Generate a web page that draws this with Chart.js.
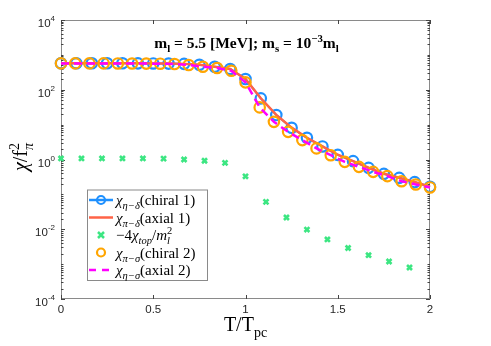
<!DOCTYPE html>
<html>
<head>
<meta charset="utf-8">
<script src="https://cdn.jsdelivr.net/npm/chart.js@4.4.0/dist/chart.umd.min.js"></script>
<style>
  body { margin: 0; background: #fff; }
  #wrap { width: 491px; height: 346px; }
</style>
</head>
<body>
<div id="wrap"><canvas id="myChart" width="491" height="346"></canvas></div>
<script>
// chiral 1 / axial 1 grid (T/Tpc)
const t_eta_delta = [0, 0.083, 0.167, 0.25, 0.333, 0.417, 0.5, 0.583, 0.667, 0.75, 0.833, 0.917,
    1, 1.083, 1.167, 1.25, 1.333, 1.417, 1.5, 1.583, 1.667, 1.75, 1.833, 1.917, 2];
const chi_eta_delta = [575, 575, 575, 575, 573, 571, 568, 563, 552, 521, 457, 393,
    203, 56.6, 18.8, 8.1, 4.19, 2.37, 1.36, 0.898, 0.576, 0.388, 0.298, 0.225, 0.165];
const chi_pi_delta = [575, 575, 575, 575, 573, 571, 568, 563, 552, 521, 457, 393,
    205, 57, 19, 8.2, 4.2, 2.38, 1.37, 0.9, 0.58, 0.39, 0.3, 0.226, 0.165];

// chiral 2 / axial 2 grid
const t_pi_sigma = [0, 0.077, 0.154, 0.231, 0.308, 0.385, 0.462, 0.538, 0.615, 0.692, 0.769, 0.846, 0.923,
    1, 1.077, 1.154, 1.231, 1.308, 1.385, 1.462, 1.538, 1.615, 1.692, 1.769, 1.846, 1.923, 2];
const chi_pi_sigma = [570, 570, 570, 569, 568, 566, 563, 558, 546, 511, 457, 420, 351,
    163, 31.2, 12.0, 6.2, 3.6, 2.08, 1.33, 0.857, 0.616, 0.442, 0.333, 0.239, 0.192, 0.158];
const chi_eta_sigma = [570, 570, 570, 569, 568, 566, 563, 558, 546, 511, 457, 420, 351,
    163, 31.2, 12.0, 6.2, 3.6, 2.08, 1.33, 0.857, 0.616, 0.442, 0.333, 0.239, 0.192, 0.158];

// topological susceptibility
const t_top = [0, 0.111, 0.222, 0.333, 0.444, 0.556, 0.667, 0.778, 0.889,
    1, 1.111, 1.222, 1.333, 1.444, 1.556, 1.667, 1.778, 1.889];
const chi_top = [1.07, 1.07, 1.07, 1.07, 1.07, 1.06, 1.0, 0.92, 0.80,
    0.33, 0.061, 0.0217, 0.0098, 0.0051, 0.0029, 0.0018, 0.00119, 0.0008];

const xTicks = [0, 0.5, 1, 1.5, 2];
const xTickLabels = ['0', '0.5', '1', '1.5', '2'];
const yTicks = [1e-4, 1e-2, 1, 1e2, 1e4];
const yTickExp = ['-4', '-2', '0', '2', '4'];

const BLUE = 'rgb(30,144,255)';
const RED = 'rgb(255,99,71)';
const GREEN = 'rgb(60,230,130)';
const ORANGE = 'rgb(255,165,0)';
const MAGENTA = 'rgb(255,0,255)';
const SERIF = '"Liberation Serif", "DejaVu Serif", serif';
const SANS = '"Liberation Sans", Arial, sans-serif';

const pts = (xs, ys) => xs.map((v, i) => ({x: v, y: ys[i]}));

// rich text: [text, mode]  i = italic, b = subscript, p = superscript, k = start at previous segment
function rich(ctx, segs, x, y, size, bold, draw) {
    let cx = x, prev = x, maxX = x;
    segs.forEach(([t, m]) => {
        let s = size, dy = 0;
        if (m.includes('b')) { s = size * 0.7; dy = size * 0.28; }
        if (m.includes('p')) { s = size * 0.7; dy = -size * 0.38; }
        if (m.includes('k')) cx = prev;
        ctx.font = (m.includes('i') ? 'italic ' : '') + (bold ? 'bold ' : '') + s + 'px ' + SERIF;
        prev = cx;
        if (draw) ctx.fillText(t, cx, y + dy);
        cx += ctx.measureText(t).width;
        maxX = Math.max(maxX, cx);
    });
    return maxX - x;
}

const legendItems = [
    {segs: [['χ', 'i'], ['η−δ', 'ib'], ['(chiral 1)', '']], kind: 'lineMark', color: BLUE},
    {segs: [['χ', 'i'], ['π−δ', 'ib'], ['(axial 1)', '']], kind: 'line', color: RED},
    {segs: [['−4', ''], ['χ', 'i'], ['top', 'ib'], ['/', ''], ['m', 'i'], ['l', 'ib'], ['2', 'pk']], kind: 'cross', color: GREEN},
    {segs: [['χ', 'i'], ['π−σ', 'ib'], ['(chiral 2)', '']], kind: 'mark', color: ORANGE},
    {segs: [['χ', 'i'], ['η−σ', 'ib'], ['(axial 2)', '']], kind: 'dash', color: MAGENTA}
];

const framePlugin = {
    id: 'frame',
    beforeDatasetsDraw(chart) {
        const {ctx, chartArea: a, scales: {x, y}} = chart;
        ctx.save();
        ctx.strokeStyle = '#8a8a8a';
        ctx.lineWidth = 1;
        ctx.strokeRect(a.left + 0.5, a.top + 0.5, a.right - a.left - 1, a.bottom - a.top - 1);
        ctx.strokeStyle = '#444';
        ctx.beginPath();
        xTicks.forEach(v => {
            const px = Math.round(x.getPixelForValue(v)) + 0.5;
            ctx.moveTo(px, a.bottom); ctx.lineTo(px, a.bottom - 4);
            ctx.moveTo(px, a.top); ctx.lineTo(px, a.top + 4);
        });
        for (let e = -4; e <= 4; e++) {
            for (let m = 1; m <= 9; m++) {
                if (e === 4 && m > 1) break;
                const v = m * Math.pow(10, e);
                const py = Math.round(y.getPixelForValue(v)) + 0.5;
                const len = (m === 1 && e % 2 === 0) ? 4 : 2.5;
                ctx.moveTo(a.left, py); ctx.lineTo(a.left + len, py);
                ctx.moveTo(a.right, py); ctx.lineTo(a.right - len, py);
            }
        }
        ctx.stroke();

        // tick labels
        ctx.fillStyle = '#262626';
        ctx.font = '11.5px ' + SANS;
        ctx.textAlign = 'center';
        ctx.textBaseline = 'alphabetic';
        xTicks.forEach((v, i) => ctx.fillText(xTickLabels[i], x.getPixelForValue(v), a.bottom + 14));
        ctx.textAlign = 'left';
        yTicks.forEach((v, i) => {
            const py = y.getPixelForValue(v);
            ctx.font = '8px ' + SANS;
            const w2 = ctx.measureText(yTickExp[i]).width;
            ctx.font = '11.5px ' + SANS;
            const w1 = ctx.measureText('10').width;
            const x0 = a.left - 6 - w1 - w2;
            ctx.fillText('10', x0, py + 7);
            ctx.font = '8px ' + SANS;
            ctx.fillText(yTickExp[i], x0 + w1, py + 1);
        });
        ctx.restore();
    },
    afterDraw(chart) {
        const {ctx, chartArea: a} = chart;
        ctx.save();
        ctx.fillStyle = '#000';
        ctx.textBaseline = 'alphabetic';
        ctx.textAlign = 'left';

        // title inside the axes
        const title = [['m', ''], ['l', 'b'], [' = 5.5 [MeV]; m', ''], ['s', 'b'], [' = 10', ''], ['−3', 'p'], ['m', ''], ['l', 'b']];
        const tw = rich(ctx, title, 0, 0, 15.5, true, false);
        rich(ctx, title, 246.5 - tw / 2, 48, 15.5, true, true);

        // x axis label
        const xl = [['T/T', ''], ['pc', 'b']];
        const xw = rich(ctx, xl, 0, 0, 20, false, false);
        rich(ctx, xl, (a.left + a.right) / 2 - xw / 2, 331, 20, false, true);

        // y axis label
        const yl = [['χ', 'i'], ['/f', ''], ['π', 'ib'], ['2', 'pk']];
        const yw = rich(ctx, yl, 0, 0, 20, false, false);
        ctx.translate(27, 157);
        ctx.rotate(-Math.PI / 2);
        rich(ctx, yl, -yw / 2, 0, 20, false, true);
        ctx.setTransform(1, 0, 0, 1, 0, 0);

        // legend box
        const bx = 87, by = 189.5, bw = 120, bh = 90.5;
        ctx.fillStyle = '#fff';
        ctx.fillRect(bx, by, bw, bh);
        ctx.strokeStyle = '#8a8a8a';
        ctx.lineWidth = 1;
        ctx.strokeRect(bx + 0.5, by + 0.5, bw, bh);
        legendItems.forEach((it, i) => {
            const cy = 200 + i * 17.5;
            const x1 = 89, x2 = 113, xm = 101;
            ctx.lineWidth = 2.5;
            ctx.strokeStyle = it.color;
            ctx.setLineDash(it.kind === 'dash' ? [7, 6] : []);
            if (it.kind !== 'mark' && it.kind !== 'cross') {
                ctx.beginPath(); ctx.moveTo(x1, cy); ctx.lineTo(x2, cy); ctx.stroke();
            }
            ctx.setLineDash([]);
            if (it.kind === 'lineMark' || it.kind === 'mark') {
                ctx.lineWidth = 2.2;
                ctx.beginPath(); ctx.arc(xm, cy, 4, 0, Math.PI * 2); ctx.stroke();
            }
            if (it.kind === 'cross') {
                ctx.lineWidth = 2.5;
                ctx.beginPath();
                ctx.moveTo(xm - 3, cy - 3); ctx.lineTo(xm + 3, cy + 3);
                ctx.moveTo(xm + 3, cy - 3); ctx.lineTo(xm - 3, cy + 3);
                ctx.stroke();
            }
            ctx.fillStyle = '#000';
            rich(ctx, it.segs, 116, cy + 5, 15, false, true);
        });
        ctx.restore();
    }
};

new Chart(document.getElementById('myChart'), {
    type: 'scatter',
    data: {
        datasets: [{
            label: 'chi eta-delta (chiral 1)',
            data: pts(t_eta_delta, chi_eta_delta),
            showLine: true,
            borderColor: BLUE,
            borderWidth: 2,
            pointStyle: 'circle',
            pointRadius: 5.2,
            pointBorderWidth: 2.2,
            pointBorderColor: BLUE,
            pointBackgroundColor: 'rgba(0,0,0,0)',
            clip: false,
            order: 5
        }, {
            label: 'chi pi-delta (axial 1)',
            data: pts(t_eta_delta, chi_pi_delta),
            showLine: true,
            borderColor: RED,
            borderWidth: 2.5,
            pointRadius: 0,
            clip: false,
            order: 4
        }, {
            label: '-4 chi_top / m_l^2',
            data: pts(t_top, chi_top),
            showLine: false,
            pointStyle: 'crossRot',
            pointRadius: 3.5,
            pointBorderWidth: 2.6,
            pointBorderColor: GREEN,
            borderColor: GREEN,
            clip: false,
            order: 3
        }, {
            label: 'chi pi-sigma (chiral 2)',
            data: pts(t_pi_sigma, chi_pi_sigma),
            showLine: false,
            pointStyle: 'circle',
            pointRadius: 5.2,
            pointBorderWidth: 2.2,
            pointBorderColor: ORANGE,
            pointBackgroundColor: 'rgba(0,0,0,0)',
            borderColor: ORANGE,
            clip: false,
            order: 2
        }, {
            label: 'chi eta-sigma (axial 2)',
            data: pts(t_pi_sigma, chi_eta_sigma),
            showLine: true,
            borderColor: MAGENTA,
            borderWidth: 2.5,
            borderDash: [8, 5],
            pointRadius: 0,
            clip: false,
            order: 1
        }]
    },
    options: {
        responsive: false,
        animation: false,
        layout: {padding: {left: 61, right: 61, top: 20, bottom: 47}},
        plugins: {legend: {display: false}, title: {display: false}, tooltip: {enabled: false}},
        scales: {
            x: {type: 'linear', min: 0, max: 2, display: false},
            y: {type: 'logarithmic', min: 1e-4, max: 1e4, display: false}
        }
    },
    plugins: [framePlugin]
});
</script>
</body>
</html>
